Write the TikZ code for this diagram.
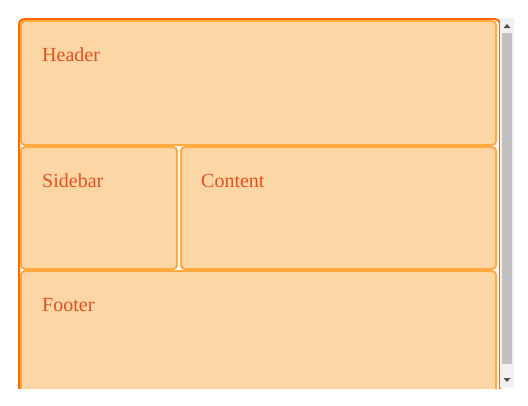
\documentclass[tikz,border=0pt]{standalone}
\usepackage{fontspec}
\setmainfont{Liberation Serif}
\usetikzlibrary{positioning}
\definecolor{frameorange}{HTML}{FF6A00}
\definecolor{panelborder}{HTML}{FFA940}
\definecolor{panelfill}{HTML}{FDD6A5}
\definecolor{paneltext}{HTML}{E5501E}
\definecolor{scrolltrack}{HTML}{F1F1F1}
\definecolor{scrollthumb}{HTML}{C1C1C1}
\definecolor{scrollarrow}{HTML}{505050}
\tikzset{
	panel/.style={
		draw=panelborder,
		fill=panelfill,
		line width=2pt,
		rounded corners=4pt,
		anchor=north west,
		inner sep=0pt,
		outer sep=0pt
	},
	labe/.style={
		text=paneltext,
		font={\fontsize{20}{24}\selectfont},
		anchor=base west,
		inner sep=0pt
	},
	arrowtri/.style={fill=scrollarrow, draw=none}
}

\begin{document}
\begin{tikzpicture}[x=1pt, y=-1pt]
	\useasboundingbox (0,0) rectangle (528,405);
	\begin{scope}
	\clip (0,0) rectangle (528,388);
	% outer frame, cut off at the bottom
	\node[draw=frameorange, line width=2pt, rounded corners=5pt, anchor=north west,
		minimum width=481pt, minimum height=400pt, inner sep=0pt] (frame) at (18,18) {};
	
	\node[panel, minimum width=475pt, minimum height=124pt] (header) at (21,21) {};
	\node[labe] (headerlabel) at ([shift={(21,40)}]header.north west) {Header};
	
	\node[panel, minimum width=156pt, minimum height=122pt] (sidebar) at (21,147) {};
	\node[labe] (sidebarlabel) at ([shift={(21,40)}]sidebar.north west) {Sidebar};
	
	\node[panel, minimum width=315pt, minimum height=122pt] (content) at (181,147) {};
	\node[labe] (contentlabel) at ([shift={(20,40)}]content.north west) {Content};
	
	\node[panel, minimum width=475pt, minimum height=150pt] (footer) at (21,271) {};
	\node[labe] (footerlabel) at ([shift={(21,40)}]footer.north west) {Footer};
	
	% scrollbar
	\fill[scrolltrack] (500,18) rectangle (514,388);
	\fill[scrollthumb] (502,33) rectangle (512,364);
	\fill[arrowtri] (503.5,28) -- (510.5,28) -- (507,24) -- cycle;
	\fill[arrowtri] (503.5,378) -- (510.5,378) -- (507,382) -- cycle;
	\end{scope}
\end{tikzpicture}
\end{document}
